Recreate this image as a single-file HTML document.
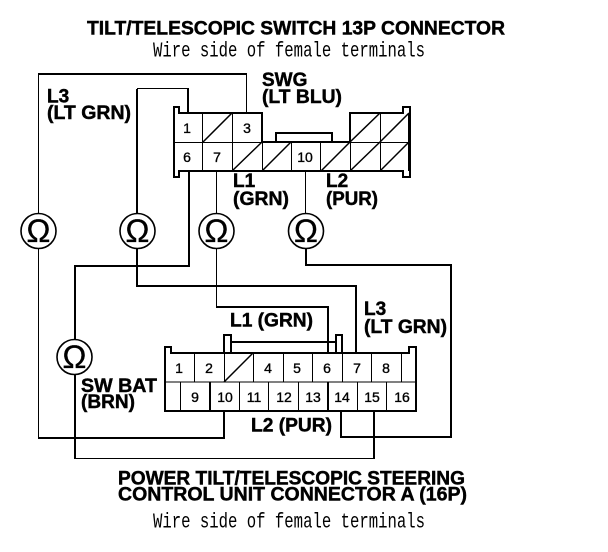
<!DOCTYPE html>
<html>
<head>
<meta charset="utf-8">
<style>
html,body{margin:0;padding:0;background:#fff}
svg{display:block}
.b{font-family:"Liberation Sans",sans-serif;font-weight:bold;font-size:19px;fill:#000;stroke:#000;stroke-width:.45}
.m{font-family:"Liberation Mono",monospace;font-size:21px;fill:#000}
.n{font-family:"Liberation Sans",sans-serif;font-size:14px;fill:#000;stroke:#000;stroke-width:.35;text-anchor:middle}
.o{font-family:"Liberation Sans",sans-serif;font-size:32px;fill:#000;stroke:#000;stroke-width:.3;text-anchor:middle}
.w{fill:none;stroke:#000;stroke-width:2}
.t{fill:none;stroke:#000;stroke-width:1}
</style>
</head>
<body>
<svg width="608" height="552" viewBox="0 0 608 552" xmlns="http://www.w3.org/2000/svg">
<rect width="608" height="552" fill="#fff"/>

<!-- wires -->
<g shape-rendering="crispEdges">
<path class="t" d="M38.5 230V74.5"/>
<path class="w" d="M38 74H247"/>
<path class="t" d="M246.5 74V113"/>
<path class="t" d="M38.5 230V438"/>
<path class="w" d="M38 438H224V412"/>
<path class="w" d="M137 230V89"/>
<path class="t" d="M137 88.5H188"/>
<path class="w" d="M188 88V113"/>
<path class="w" d="M137 230V286H356V353"/>
<path class="w" d="M189 172V266H75V459"/>
<path class="t" d="M75 458.5H374"/>
<path class="w" d="M374 412V459"/>
<path class="t" d="M216.5 172V230"/>
<path class="t" d="M216.5 230V307.5"/>
<path class="w" d="M216 307H328V353"/>
<path class="t" d="M305.5 172V230"/>
<path class="w" d="M306 230V265H451V437H341V412"/>
</g>

<!-- top connector -->
<g shape-rendering="crispEdges">
<rect x="174" y="113" width="235" height="58" fill="#fff"/>
<path class="w" d="M174 107H179V113H262V142H350V113H403V107H410V177H403V171H179V177H174Z"/>
<path class="t" d="M174 142.5H409"/>
<path class="t" d="M202.5 113V171M232.5 113V171M262.5 142V171M291.5 142V171M320.5 142V171M350.5 113V171M380.5 113V171M408.5 113V171"/>
<path class="w" d="M262 113V142"/>
<path class="w" d="M276 142V133H332V142" />
</g>
<path stroke="#000" fill="none" stroke-width="1.5" d="M203 142L232 113M232 171L262 142M262 171L291 142M321 171L350 142M350 142L380 113M380 142L409 113M350 171L380 142M380 171L409 142"/>

<text class="n" x="187" y="133">1</text>
<text class="n" x="247" y="133">3</text>
<text class="n" x="187" y="162">6</text>
<text class="n" x="217" y="162">7</text>
<text class="n" x="305" y="162">10</text>

<!-- bottom connector -->
<g shape-rendering="crispEdges">
<rect x="165" y="353" width="251" height="58" fill="#fff"/>
<path class="w" d="M165 347H171V353H409V347H416V411H165Z"/>
<path class="w" d="M224 353V335H231V353"/>
<path class="w" d="M336 353V335H342V353"/>
<path class="w" d="M231 342H336"/>
<path class="t" d="M165 382H416" />
<path class="t" d="M194.5 353V382M224.5 353V382M253.5 353V382M283.5 353V382M312.5 353V382M342.5 353V382M371.5 353V382M401.5 353V382"/>
<path class="t" d="M180.5 382V411M239.5 382V411M268.5 382V411M298.5 382V411M357.5 382V411M386.5 382V411"/>
<path class="w" d="M210 382V411M328 382V411"/>
</g>
<path d="M224 382L253 353" stroke="#000" stroke-width="1.5" fill="none"/>

<text class="n" x="179" y="373">1</text>
<text class="n" x="209" y="373">2</text>
<text class="n" x="268" y="373">4</text>
<text class="n" x="297" y="373">5</text>
<text class="n" x="327" y="373">6</text>
<text class="n" x="357" y="373">7</text>
<text class="n" x="386" y="373">8</text>
<text class="n" x="195" y="402">9</text>
<text class="n" x="225" y="402">10</text>
<text class="n" x="254" y="402">11</text>
<text class="n" x="284" y="402">12</text>
<text class="n" x="313" y="402">13</text>
<text class="n" x="342" y="402">14</text>
<text class="n" x="372" y="402">15</text>
<text class="n" x="402" y="402">16</text>

<!-- meters -->
<g fill="#fff" stroke="#000" stroke-width="1.6">
<circle cx="38.5" cy="231" r="17.5"/>
<circle cx="137.5" cy="231" r="17.5"/>
<circle cx="216.5" cy="231" r="17.5"/>
<circle cx="306" cy="231" r="17.5"/>
<circle cx="74.5" cy="357" r="17.5"/>
</g>
<text class="o" x="38.5" y="242">Ω</text>
<text class="o" x="137.5" y="242">Ω</text>
<text class="o" x="216.5" y="242">Ω</text>
<text class="o" x="306" y="242">Ω</text>
<text class="o" x="74.5" y="368">Ω</text>

<!-- titles -->
<text class="b" x="87" y="34.5" textLength="418" lengthAdjust="spacingAndGlyphs">TILT/TELESCOPIC SWITCH 13P CONNECTOR</text>
<text class="m" x="153" y="56.5" textLength="272" lengthAdjust="spacingAndGlyphs">Wire side of female terminals</text>
<text class="b" x="118" y="484.5" textLength="347" lengthAdjust="spacingAndGlyphs">POWER TILT/TELESCOPIC STEERING</text>
<text class="b" x="118" y="500.5" textLength="349" lengthAdjust="spacingAndGlyphs">CONTROL UNIT CONNECTOR A (16P)</text>
<text class="m" x="153" y="527.5" textLength="272" lengthAdjust="spacingAndGlyphs">Wire side of female terminals</text>

<!-- labels -->
<text class="b" x="262" y="86">SWG</text>
<text class="b" x="262" y="103" textLength="80" lengthAdjust="spacingAndGlyphs">(LT BLU)</text>
<text class="b" x="47" y="102.5">L3</text>
<text class="b" x="47" y="119" textLength="84" lengthAdjust="spacingAndGlyphs">(LT GRN)</text>
<text class="b" x="233" y="187">L1</text>
<text class="b" x="233" y="205" textLength="56" lengthAdjust="spacingAndGlyphs">(GRN)</text>
<text class="b" x="326" y="187">L2</text>
<text class="b" x="326" y="205" textLength="52" lengthAdjust="spacingAndGlyphs">(PUR)</text>
<text class="b" x="230" y="326.5" textLength="83" lengthAdjust="spacingAndGlyphs">L1 (GRN)</text>
<text class="b" x="364" y="315">L3</text>
<text class="b" x="364" y="333" textLength="83" lengthAdjust="spacingAndGlyphs">(LT GRN)</text>
<text class="b" x="81" y="392" textLength="76" lengthAdjust="spacingAndGlyphs">SW BAT</text>
<text class="b" x="81" y="408" textLength="54" lengthAdjust="spacingAndGlyphs">(BRN)</text>
<text class="b" x="251" y="431.5" textLength="81" lengthAdjust="spacingAndGlyphs">L2 (PUR)</text>
</svg>
</body>
</html>
